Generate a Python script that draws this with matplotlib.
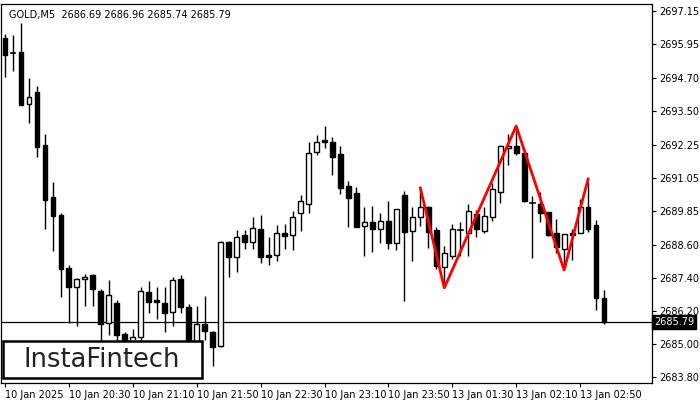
import numpy as np
import matplotlib
matplotlib.use('Agg')
from matplotlib import pyplot as plt
from matplotlib.patches import Rectangle

''' GOLD M5 candles with a triple-top style pattern '''

opens = [2696.16, 2695.62, 2695.65, 2693.76, 2694.19, 2692.26, 2690.37, 2689.71, 2687.78, 2687.08,
         2687.37, 2687.52, 2686.94, 2685.77, 2686.50, 2685.37, 2685.04, 2685.26, 2686.90, 2686.61,
         2686.50, 2686.17, 2687.37, 2686.35, 2684.97, 2685.73, 2685.44, 2684.93, 2688.72, 2688.18,
         2688.98, 2688.72, 2689.20, 2688.25, 2688.25, 2689.05, 2688.98, 2689.78, 2690.11, 2692.01,
         2692.44, 2692.37, 2691.93, 2690.77, 2690.51, 2689.31, 2689.45, 2689.20, 2689.49, 2688.69,
         2690.44, 2689.13, 2689.63, 2690.00, 2689.16, 2687.81, 2688.21, 2689.16, 2689.05, 2689.75,
         2689.13, 2689.63, 2690.55, 2692.15, 2692.23, 2691.97, 2690.15, 2690.11, 2689.82, 2689.05,
         2688.47, 2689.05, 2689.05, 2690.00, 2689.34, 2686.69]
highs = [2696.30, 2696.27, 2696.71, 2694.71, 2694.41, 2692.66, 2690.91, 2689.78, 2687.89, 2687.41,
         2687.56, 2687.56, 2687.00, 2687.34, 2686.61, 2685.45, 2685.55, 2687.08, 2687.30, 2687.08,
         2687.08, 2687.45, 2687.52, 2686.45, 2686.39, 2686.75, 2685.48, 2688.75, 2688.75, 2689.16,
         2689.16, 2689.63, 2689.71, 2688.91, 2689.34, 2689.38, 2689.85, 2690.44, 2692.37, 2692.63,
         2692.95, 2692.55, 2692.23, 2690.95, 2690.73, 2690.00, 2690.04, 2689.78, 2690.22, 2689.93,
         2690.58, 2690.00, 2690.73, 2690.05, 2689.27, 2688.58, 2689.38, 2689.45, 2690.11, 2689.89,
         2690.00, 2690.88, 2692.26, 2692.66, 2692.81, 2691.97, 2690.40, 2690.55, 2689.82, 2689.56,
         2689.02, 2689.20, 2690.29, 2690.91, 2689.53, 2686.96]
lows = [2694.74, 2694.96, 2693.72, 2693.06, 2691.82, 2689.20, 2688.40, 2686.72, 2685.77, 2685.66,
        2686.39, 2686.39, 2685.04, 2685.33, 2685.04, 2684.79, 2684.90, 2684.97, 2686.13, 2685.92,
        2685.44, 2685.66, 2686.13, 2684.60, 2684.79, 2685.15, 2684.20, 2684.90, 2687.45, 2687.63,
        2688.47, 2688.47, 2687.96, 2687.89, 2688.03, 2688.47, 2688.43, 2689.13, 2689.78, 2691.90,
        2692.15, 2691.17, 2690.47, 2689.27, 2689.27, 2688.21, 2688.36, 2688.69, 2688.47, 2688.43,
        2686.57, 2688.03, 2689.31, 2688.51, 2687.74, 2687.05, 2688.11, 2688.21, 2688.21, 2688.91,
        2689.05, 2689.49, 2690.15, 2691.53, 2691.90, 2690.18, 2688.14, 2689.45, 2688.94, 2688.32,
        2687.85, 2688.07, 2689.05, 2689.09, 2686.24, 2685.74]
closes = [2695.54, 2695.60, 2693.72, 2694.01, 2692.19, 2690.26, 2689.67, 2687.74, 2687.08, 2687.37,
          2687.45, 2687.01, 2685.73, 2686.79, 2685.33, 2685.04, 2685.26, 2686.94, 2686.54, 2686.54,
          2686.13, 2687.34, 2686.35, 2684.97, 2685.73, 2685.48, 2684.90, 2688.72, 2688.18, 2688.91,
          2688.72, 2689.23, 2688.18, 2688.18, 2689.05, 2688.94, 2689.63, 2690.22, 2691.97, 2692.37,
          2692.37, 2691.82, 2690.69, 2690.33, 2689.27, 2689.45, 2689.20, 2689.49, 2688.69, 2689.93,
          2689.09, 2689.63, 2690.00, 2689.09, 2687.85, 2688.32, 2689.20, 2689.18, 2689.85, 2689.20,
          2689.67, 2690.66, 2692.23, 2692.23, 2691.97, 2690.22, 2690.13, 2689.78, 2688.98, 2688.54,
          2689.02, 2688.98, 2690.00, 2689.20, 2686.68, 2685.79]

pattern_idx = [52, 55, 64, 70, 73]
pattern_px = [2690.69, 2687.05, 2692.95, 2687.70, 2691.02]

price_ticks = [2697.15, 2695.95, 2694.70, 2693.50, 2692.25, 2691.05, 2689.85,
               2688.60, 2687.40, 2686.20, 2685.00, 2683.80]
time_idx = [0, 8, 16, 24, 32, 40, 48, 56, 64, 72]
time_labels = ['10 Jan 2025', '10 Jan 20:30', '10 Jan 21:10', '10 Jan 21:50', '10 Jan 22:30',
               '10 Jan 23:10', '10 Jan 23:50', '13 Jan 01:30', '13 Jan 02:10', '13 Jan 02:50']
last_price = 2685.79

fig = plt.figure(figsize=(7, 4), dpi=100)
ax = fig.add_axes([1/700, 17/400, 651/700, 379/400])
ax.set_xlim(-0.5, 81)
ax.set_ylim(2683.58, 2697.40)

for i, (o, h, l, c) in enumerate(zip(opens, highs, lows, closes)):
    ax.plot([i, i], [l, h], color='black', lw=1.0, zorder=2, solid_capstyle='butt')
    bottom, top = min(o, c), max(o, c)
    face = 'white' if c >= o else 'black'
    if top - bottom < 0.03:
        ax.plot([i - 0.3, i + 0.3], [o, o], color='black', lw=1.2, zorder=3)
    else:
        ax.add_patch(Rectangle((i - 0.3, bottom), 0.6, top - bottom, facecolor=face,
                               edgecolor='black', lw=1.0, zorder=3))

ax.plot(pattern_idx, pattern_px, color='#ff0000', lw=2, zorder=4)
ax.axhline(last_price, color='black', lw=0.9, zorder=1)

ax.yaxis.tick_right()
ax.set_yticks(price_ticks)
ax.set_yticklabels(['%.2f' % p for p in price_ticks], fontsize=7)
ax.set_xticks(time_idx)
ax.set_xticklabels(time_labels, fontsize=7, ha='left')
ax.tick_params(axis='both', length=3, width=0.8, pad=2)
for sp in ax.spines.values():
    sp.set_linewidth(0.9)

ax.text(81.3, last_price, '%.2f' % last_price, fontsize=7, color='white',
        va='center', ha='left', zorder=6, clip_on=False,
        bbox=dict(boxstyle='square,pad=0.2', facecolor='black', edgecolor='black'))

ax.text(0.012, 0.985, 'GOLD,M5  2686.69 2686.96 2685.74 2685.79', transform=ax.transAxes,
        fontsize=7, va='top', ha='left')

# logo box
fig.patches.append(Rectangle((3/700, 22/400), 199/700, 37/400, transform=fig.transFigure,
                             facecolor='white', edgecolor='black', lw=1.8, zorder=10))
fig.text(102/700, 40/400, 'InstaFintech', fontsize=18.5, ha='center', va='center',
         color='#222222', weight='medium', zorder=11)

fig.savefig('out.png', dpi=100)
